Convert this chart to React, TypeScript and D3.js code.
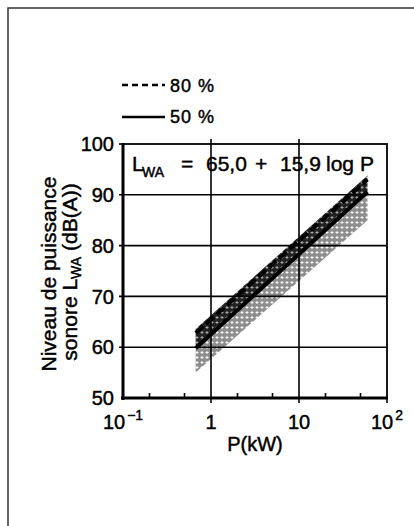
import * as d3 from "d3";

// axes
const xDomain = [0.1, 100];
const yDomain = [50, 100];
const xTickValues = [0.1, 1, 10, 100];
const xTickBase = ["10", "1", "10", "10"];
const xTickSup = ["\u22121", "", "", "2"];
const xGrid = [1, 10];
const xMinor = [0.2, 0.5, 2, 5, 20, 50];
const yTickValues = [50, 60, 70, 80, 90, 100];
const yGrid = [60, 70, 80, 90];

// curves
const curveP = [0.67, 60];
const line80 = [62.8, 93.0];
const line50 = [59.8, 90.6];
const bandTop = [63.6, 93.8];
const bandBottom = [55.0, 85.0];

const legendLabels = ["80 %", "50 %"];

const W = 414;
const H = 526;
const left = 123, right = 387, top = 144, bottom = 398;
const font = "'Liberation Sans', Arial, Helvetica, sans-serif";

export default function App() {
  const x = d3.scaleLog().domain(xDomain).range([left, right]);
  const y = d3.scaleLinear().domain(yDomain).range([bottom, top]);

  const pts = (vals: number[]) => curveP.map((p, i) => ({ p, v: vals[i] }));
  const line = d3.line<{ p: number; v: number }>().x(d => x(d.p)).y(d => y(d.v));
  const band = (hi: number[], lo: number[]) =>
    d3.area<number>()
      .x(p => x(p))
      .y1((_, i) => y(hi[i]))
      .y0((_, i) => y(lo[i]))(curveP) || "";

  // scanned text looks heavier than a plain regular face
  const heavy = { stroke: "#000", strokeWidth: 0.45 };

  return (
    <div style={{ position: "absolute", left: 0, top: 0 }}>
      <svg width={W} height={H} style={{ display: "block", background: "#fff" }} fontFamily={font}>
        <defs>
          <pattern id="dark" width="5" height="5" patternUnits="userSpaceOnUse">
            <rect width="5" height="5" fill="#222" />
            <path d="M0.5,2.5H3.5M2,1V4" stroke="#fff" strokeWidth="0.8" opacity="0.7" />
          </pattern>
          <pattern id="light" width="5" height="5" patternUnits="userSpaceOnUse">
            <rect width="5" height="5" fill="#8e8e8e" />
            <path d="M0.5,2.5H3.5M2,1V4" stroke="#fff" strokeWidth="0.9" />
          </pattern>
        </defs>

        {/* page frame */}
        <path d={`M8,${H}V8H${W}`} fill="none" stroke="#333" strokeWidth="1.5" />

        {/* legend */}
        <g fontSize="18" fill="#000" {...heavy}>
          <line x1="122" x2="165" y1="85" y2="85" stroke="#000" strokeWidth="2.5" strokeDasharray="6,4" />
          <text x="170" y="92" letterSpacing="1">{legendLabels[0]}</text>
          <line x1="122" x2="165" y1="117" y2="117" stroke="#000" strokeWidth="2.5" />
          <text x="170" y="123" letterSpacing="1">{legendLabels[1]}</text>
        </g>

        {/* bands */}
        <path d={band(line50, bandBottom)} fill="url(#light)" />
        <path d={band(bandTop, line50)} fill="url(#dark)" />

        {/* grid */}
        <g stroke="#000" strokeWidth="1.6">
          {yGrid.map(v => (
            <line key={v} x1={left - 4} x2={right} y1={y(v)} y2={y(v)} />
          ))}
          {xGrid.map(p => (
            <line key={p} x1={x(p)} x2={x(p)} y1={top - 5} y2={bottom + 5} />
          ))}
          {xMinor.map(p => (
            <line key={p} x1={x(p)} x2={x(p)} y1={bottom} y2={bottom - 5} />
          ))}
          <line x1={left - 4} x2={left} y1={y(100)} y2={y(100)} />
          <line x1={right} x2={right} y1={bottom} y2={bottom + 5} />
        </g>

        {/* curves */}
        <path d={line(pts(line50)) || ""} fill="none" stroke="#000" strokeWidth="4" />
        <path d={line(pts(line80)) || ""} fill="none" stroke="#000" strokeWidth="4" strokeDasharray="10,4" />

        {/* frame of plot */}
        <rect x={left} y={top} width={right - left} height={bottom - top} fill="none" stroke="#000" strokeWidth="1.8" />
        <line x1={left} x2={left} y1={top - 1} y2={bottom + 2} stroke="#000" strokeWidth="3" />
        <line x1={left - 2} x2={right + 1} y1={bottom} y2={bottom} stroke="#000" strokeWidth="3" />

        {/* y tick labels */}
        <g fontSize="20" textAnchor="end" fill="#000" {...heavy}>
          {yTickValues.map(v => (
            <text key={v} x={left - 9} y={y(v)} dy="0.36em">{v}</text>
          ))}
        </g>

        {/* x tick labels */}
        <g fontSize="20" textAnchor="middle" fill="#000" {...heavy}>
          {xTickValues.map((p, i) => (
            <text key={p} x={x(p)} y={429}>
              {xTickBase[i]}
              {xTickSup[i] && <tspan dx="2" dy="-9" fontSize="14">{xTickSup[i]}</tspan>}
            </text>
          ))}
        </g>

        {/* x title */}
        <text x={255} y={451} fontSize="20" textAnchor="middle" {...heavy}>P(kW)</text>

        {/* y title */}
        <g fontSize="21" textAnchor="middle" {...heavy}>
          <text transform="translate(56,274) rotate(-90)">Niveau de puissance</text>
          <text transform="translate(77,272) rotate(-90)">
            sonore L<tspan fontSize="14" dy="4">WA</tspan>
            <tspan dy="-4"> (dB(A))</tspan>
          </text>
        </g>

        {/* formula */}
        <g fontSize="21" fill="#000" {...heavy}>
          <text x={132} y={171}>L</text>
          <text x={142} y={177} fontSize="14">WA</text>
          <text x={181} y={171}>=</text>
          <text x={206} y={171}>65,0</text>
          <text x={255} y={171}>+</text>
          <text x={280} y={171}>15,9</text>
          <text x={326} y={171}>log</text>
          <text x={360} y={171}>P</text>
        </g>
      </svg>
    </div>
  );
}
